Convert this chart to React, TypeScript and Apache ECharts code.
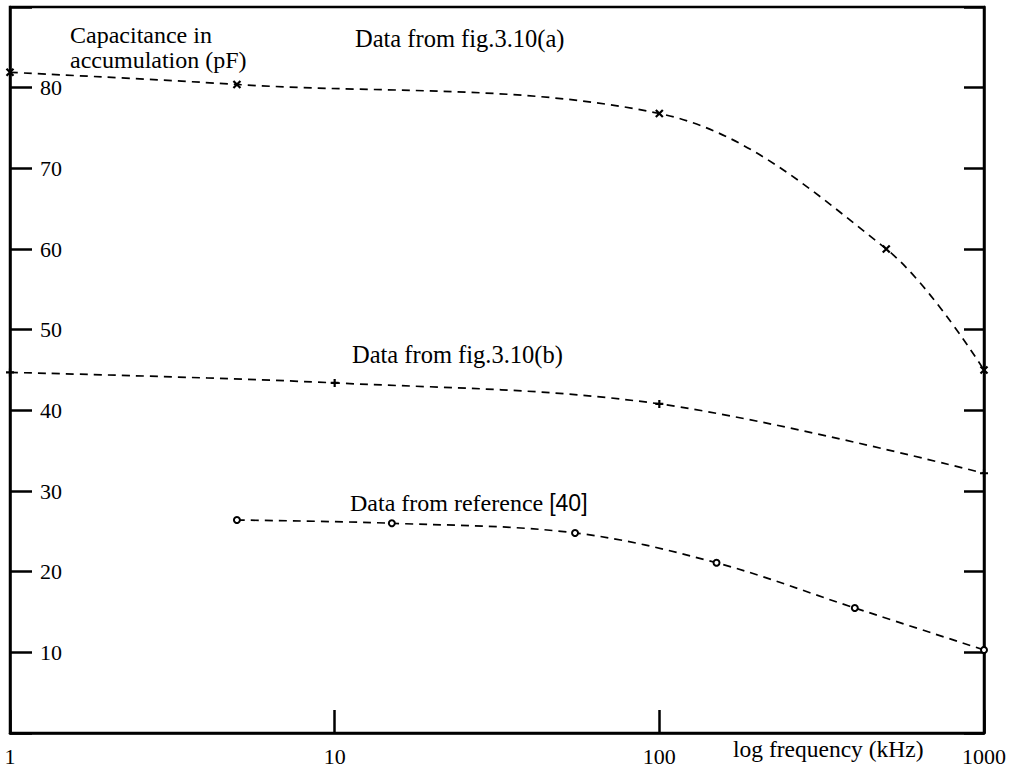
import React, { useEffect, useRef } from "react";
import * as echarts from "echarts";

const freqA = [1, 5, 100, 500, 1000];
const capA = [81.9, 80.4, 76.8, 60.0, 45.0];
const freqB = [1, 10, 100, 1000];
const capB = [44.7, 43.4, 40.8, 32.2];
const freqC = [5, 15, 55, 150, 400, 1000];
const capC = [26.4, 26.0, 24.8, 21.1, 15.5, 10.3];

const yTickLabelsHidden = [0, 90];
const labelA = "Data from fig.3.10(a)";
const labelB = "Data from fig.3.10(b)";
const labelC = "Data from reference ";
const labelCRef = "[40]";
const yTitle = ["Capacitance in", "accumulation (pF)"];
const xTitle = "log frequency (kHz)";

const SERIF = "Liberation Serif";
const SANS = "Liberation Sans";

const zip = (xs: number[], ys: number[]) => xs.map((x, i) => [x, ys[i]]);

export default function App() {
  const ref = useRef<HTMLDivElement>(null);
  useEffect(() => {
    if (!ref.current) return;
    const chart = echarts.init(ref.current, null, { renderer: "svg" });
    const lineStyle = { color: "#000", width: 1.7, type: [8, 6] as any };
    const axisLabelStyle = { color: "#000", fontFamily: SERIF, fontSize: 22 };
    chart.setOption({
      animation: false,
      backgroundColor: "#fff",
      textStyle: { fontFamily: SERIF },
      grid: {
        left: 10,
        right: 33,
        top: 7,
        bottom: 42,
        show: true,
        borderColor: "#000",
        borderWidth: 2.5,
        backgroundColor: "transparent",
      },
      xAxis: [
        {
          type: "log",
          logBase: 10,
          min: 1,
          max: 1000,
          position: "bottom",
          axisLine: { show: true, lineStyle: { color: "#000", width: 2.5 } },
          axisTick: { show: true, inside: true, length: 23, lineStyle: { color: "#000", width: 2.5 } },
          minorTick: { show: false },
          splitLine: { show: false },
          axisLabel: { ...axisLabelStyle, margin: 12, formatter: (v: number) => String(v) },
        },
      ],
      yAxis: [
        {
          type: "value",
          min: 0,
          max: 90,
          interval: 10,
          position: "left",
          axisLine: { show: true, lineStyle: { color: "#000", width: 2.5 } },
          axisTick: { show: true, inside: true, length: 22, lineStyle: { color: "#000", width: 2.5 } },
          splitLine: { show: false },
          axisLabel: {
            ...axisLabelStyle,
            inside: true,
            margin: 30,
            formatter: (v: number) => (yTickLabelsHidden.includes(v) ? "" : String(v)),
          },
        },
        {
          type: "value",
          min: 0,
          max: 90,
          interval: 10,
          position: "right",
          axisLine: { show: true, lineStyle: { color: "#000", width: 2.5 } },
          axisTick: { show: true, inside: true, length: 20, lineStyle: { color: "#000", width: 2.5 } },
          splitLine: { show: false },
          axisLabel: { show: false },
        },
      ],
      series: [
        {
          type: "line",
          data: zip(freqA, capA),
          smooth: 0.35,
          clip: false,
          symbol: "path://M0,0L10,10M10,0L0,10",
          symbolSize: 7,
          itemStyle: { color: "#000", borderColor: "#000", borderWidth: 2.2 },
          lineStyle,
        },
        {
          type: "line",
          data: zip(freqB, capB),
          smooth: 0.35,
          clip: false,
          symbol: "path://M5,0L5,10M0,5L10,5",
          symbolSize: 8,
          itemStyle: { color: "#000", borderColor: "#000", borderWidth: 2.2 },
          lineStyle,
        },
        {
          type: "line",
          data: zip(freqC, capC),
          smooth: 0.35,
          clip: false,
          symbol: "emptyCircle",
          symbolSize: 6,
          itemStyle: { color: "#000", borderColor: "#000", borderWidth: 2 },
          lineStyle,
        },
      ],
      graphic: [
        {
          type: "text",
          x: 70,
          y: 22,
          style: {
            text: yTitle.join("\n"),
            fontFamily: SERIF,
            fontSize: 24,
            lineHeight: 25,
            fill: "#000",
          },
        },
        {
          type: "text",
          x: 355,
          y: 38,
          style: { text: labelA, fontFamily: SERIF, fontSize: 24.5, fill: "#000", verticalAlign: "middle" },
        },
        {
          type: "text",
          x: 352,
          y: 354,
          style: { text: labelB, fontFamily: SERIF, fontSize: 24.5, fill: "#000", verticalAlign: "middle" },
        },
        {
          type: "text",
          x: 350,
          y: 503,
          style: {
            text: "{s|" + labelC + "}{r|" + labelCRef + "}",
            verticalAlign: "middle",
            rich: {
              s: { fontFamily: SERIF, fontSize: 24, fill: "#000", color: "#000" },
              r: { fontFamily: SANS, fontSize: 23, fill: "#000", color: "#000" },
            },
          },
        },
        {
          type: "text",
          x: 733,
          y: 749,
          style: { text: xTitle, fontFamily: SERIF, fontSize: 23.5, fill: "#000", verticalAlign: "middle" },
        },
      ],
    });
    return () => chart.dispose();
  }, []);
  return (
    <div
      ref={ref}
      style={{ position: "fixed", left: 0, top: 0, width: 1017, height: 775, background: "#fff" }}
    />
  );
}
